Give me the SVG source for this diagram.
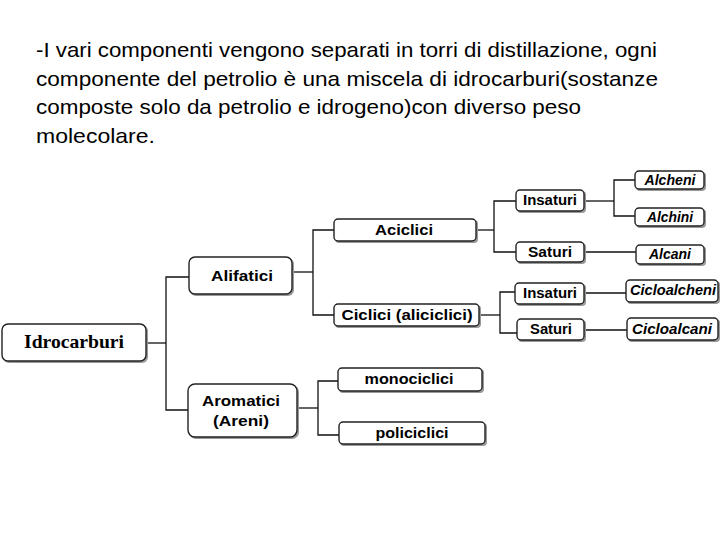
<svg xmlns="http://www.w3.org/2000/svg" width="720" height="540" viewBox="0 0 720 540">
<style>
.para{font-family:"Liberation Sans",Arial,sans-serif;font-size:21px;fill:#000}
.box{fill:#fff;stroke:#222;stroke-width:1.4}
.sh{fill:#999}
.lbl{font-family:"Liberation Sans",Arial,sans-serif;font-weight:bold;font-size:14px;fill:#000;text-anchor:middle}
.it{font-style:italic}
.big{font-family:"Liberation Serif","Times New Roman",serif;font-size:19px}
.con{fill:none;stroke:#111;stroke-width:1.3}
</style>
<rect width="720" height="540" fill="#fff"/>
<g id="paragraph">
<text class="para" x="36" y="57" textLength="621" lengthAdjust="spacingAndGlyphs">-I vari componenti vengono separati in torri di distillazione, ogni</text>
<text class="para" x="36" y="86" textLength="622" lengthAdjust="spacingAndGlyphs">componente del petrolio è una miscela di idrocarburi(sostanze</text>
<text class="para" x="36" y="114" textLength="545" lengthAdjust="spacingAndGlyphs">composte solo da petrolio e idrogeno)con diverso peso</text>
<text class="para" x="36" y="143" textLength="119" lengthAdjust="spacingAndGlyphs">molecolare.</text>
</g>
<g id="connectors">
<polyline class="con" points="146,343 166,343"/>
<polyline class="con" points="189,277 166,277 166,410 188,410"/>
<polyline class="con" points="292,272 313,272"/>
<polyline class="con" points="334,230 313,230 313,315 334,315"/>
<polyline class="con" points="476,230 494,230"/>
<polyline class="con" points="516,201 494,201 494,252 516,252"/>
<polyline class="con" points="584,201 614,201"/>
<polyline class="con" points="635,180 614,180 614,216 635,216"/>
<polyline class="con" points="584,252 636,252"/>
<polyline class="con" points="479,315 500,315"/>
<polyline class="con" points="515,292 500,292 500,333 517,333"/>
<polyline class="con" points="584,293 626,293"/>
<polyline class="con" points="584,330 627,330"/>
<polyline class="con" points="297,408 318,408"/>
<polyline class="con" points="338,381 318,381 318,435 339,435"/>
</g>
<g id="idrocarburi">
<rect class="sh" x="3" y="325" width="145" height="38" rx="6"/>
<rect class="box" x="2" y="324" width="144" height="37" rx="6"/>
<text class="lbl big" x="74" y="348" textLength="100" lengthAdjust="spacingAndGlyphs">Idrocarburi</text>
</g>
<g id="alifatici">
<rect class="sh" x="190" y="258" width="104" height="38" rx="6"/>
<rect class="box" x="189" y="257" width="103" height="37" rx="6"/>
<text class="lbl" x="242" y="281" textLength="62" lengthAdjust="spacingAndGlyphs">Alifatici</text>
</g>
<g id="aromatici">
<rect class="sh" x="189" y="385" width="110" height="54" rx="7"/>
<rect class="box" x="188" y="384" width="109" height="53" rx="7"/>
<text class="lbl" x="241" y="406" textLength="78" lengthAdjust="spacingAndGlyphs">Aromatici</text>
<text class="lbl" x="241" y="426" textLength="56" lengthAdjust="spacingAndGlyphs">(Areni)</text>
</g>
<g id="aciclici">
<rect class="sh" x="335" y="220" width="143" height="23" rx="4"/>
<rect class="box" x="334" y="219" width="142" height="22" rx="4"/>
<text class="lbl" x="404" y="235" textLength="58" lengthAdjust="spacingAndGlyphs">Aciclici</text>
</g>
<g id="ciclici">
<rect class="sh" x="335" y="305" width="146" height="23" rx="4"/>
<rect class="box" x="334" y="304" width="145" height="22" rx="4"/>
<text class="lbl" x="407" y="320" textLength="131" lengthAdjust="spacingAndGlyphs">Ciclici (aliciclici)</text>
</g>
<g id="insaturi1">
<rect class="sh" x="517" y="191" width="69" height="22" rx="4"/>
<rect class="box" x="516" y="190" width="68" height="21" rx="4"/>
<text class="lbl" x="550" y="205" textLength="54" lengthAdjust="spacingAndGlyphs">Insaturi</text>
</g>
<g id="saturi1">
<rect class="sh" x="517" y="243" width="69" height="21" rx="4"/>
<rect class="box" x="516" y="242" width="68" height="20" rx="4"/>
<text class="lbl" x="550" y="257" textLength="44" lengthAdjust="spacingAndGlyphs">Saturi</text>
</g>
<g id="alcheni">
<rect class="sh" x="636" y="172" width="70" height="19" rx="4"/>
<rect class="box" x="635" y="171" width="69" height="18" rx="4"/>
<text class="lbl it" x="670" y="185" textLength="51" lengthAdjust="spacingAndGlyphs">Alcheni</text>
</g>
<g id="alchini">
<rect class="sh" x="636" y="209" width="70" height="19" rx="4"/>
<rect class="box" x="635" y="208" width="69" height="18" rx="4"/>
<text class="lbl it" x="670" y="222" textLength="46" lengthAdjust="spacingAndGlyphs">Alchini</text>
</g>
<g id="alcani">
<rect class="sh" x="637" y="246" width="69" height="20" rx="4"/>
<rect class="box" x="636" y="245" width="68" height="19" rx="4"/>
<text class="lbl it" x="670" y="259" textLength="42" lengthAdjust="spacingAndGlyphs">Alcani</text>
</g>
<g id="insaturi2">
<rect class="sh" x="516" y="284" width="70" height="22" rx="4"/>
<rect class="box" x="515" y="283" width="69" height="21" rx="4"/>
<text class="lbl" x="550" y="298" textLength="54" lengthAdjust="spacingAndGlyphs">Insaturi</text>
</g>
<g id="saturi2">
<rect class="sh" x="518" y="320" width="68" height="22" rx="4"/>
<rect class="box" x="517" y="319" width="67" height="21" rx="4"/>
<text class="lbl" x="551" y="334" textLength="42" lengthAdjust="spacingAndGlyphs">Saturi</text>
</g>
<g id="cicloalcheni">
<rect class="sh" x="627" y="281" width="93" height="23" rx="4"/>
<rect class="box" x="626" y="280" width="92" height="22" rx="4"/>
<text class="lbl it" x="673" y="295" textLength="86" lengthAdjust="spacingAndGlyphs">Cicloalcheni</text>
</g>
<g id="cicloalcani">
<rect class="sh" x="628" y="319" width="92" height="23" rx="4"/>
<rect class="box" x="627" y="318" width="91" height="22" rx="4"/>
<text class="lbl it" x="672" y="334" textLength="80" lengthAdjust="spacingAndGlyphs">Cicloalcani</text>
</g>
<g id="monociclici">
<rect class="sh" x="339" y="369" width="145" height="24" rx="4"/>
<rect class="box" x="338" y="368" width="144" height="23" rx="4"/>
<text class="lbl" x="409" y="384" textLength="89" lengthAdjust="spacingAndGlyphs">monociclici</text>
</g>
<g id="policiclici">
<rect class="sh" x="340" y="423" width="147" height="23" rx="4"/>
<rect class="box" x="339" y="422" width="146" height="22" rx="4"/>
<text class="lbl" x="412" y="438" textLength="73" lengthAdjust="spacingAndGlyphs">policiclici</text>
</g>
</svg>
